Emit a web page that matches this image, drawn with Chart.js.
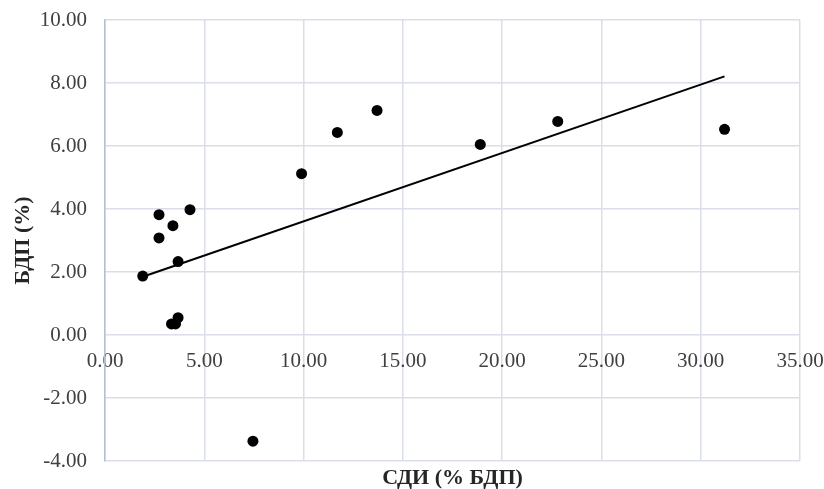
<!DOCTYPE html>
<html>
<head>
<meta charset="utf-8">
<script src="https://cdn.jsdelivr.net/npm/chart.js@4"></script>
<style>
  html, body { margin: 0; padding: 0; background: #fff; }
  #wrap { width: 824px; height: 489px; position: relative; }
</style>
</head>
<body>
<div id="wrap"><canvas id="chart"></canvas></div>
<script>
// СДИ (% БДП) on x, БДП (%) on y
const sdi = [1.9, 2.72, 2.72, 3.42, 4.28, 3.68, 3.35, 3.55, 3.68, 7.45, 9.9, 11.7, 13.7, 18.9, 22.8, 31.2];
const bdp = [1.87, 3.82, 3.08, 3.47, 3.98, 2.33, 0.35, 0.35, 0.55, -3.37, 5.12, 6.43, 7.13, 6.05, 6.78, 6.53];
const xTicks = [0, 5, 10, 15, 20, 25, 30, 35];
const yTicks = [-4, -2, 0, 2, 4, 6, 8, 10];
const xTitle = 'СДИ (% БДП)';
const yTitle = 'БДП (%)';

const FONT = "'Liberation Serif', 'Times New Roman', serif";
const TEXT = '#404040';
const GRID = '#d9dee8';

// linear trendline (least squares), like the Excel one
const n = sdi.length;
const mx = sdi.reduce((a, b) => a + b, 0) / n;
const my = bdp.reduce((a, b) => a + b, 0) / n;
let sxy = 0;
let sxx = 0;
sdi.forEach((x, i) => {
  sxy += (x - mx) * (bdp[i] - my);
  sxx += (x - mx) * (x - mx);
});
const slope = sxy / sxx;
const icpt = my - slope * mx;
const xMin = Math.min(...sdi);
const xMax = Math.max(...sdi);
const trend = [xMin, xMax].map((x) => ({ x, y: icpt + slope * x }));

const points = sdi.map((x, i) => ({ x, y: bdp[i] }));

const axisTitles = {
  id: 'axisTitles',
  afterDraw(chart) {
    const { ctx, chartArea } = chart;
    ctx.save();
    ctx.fillStyle = '#262626';
    ctx.font = `bold 22px ${FONT}`;
    ctx.textAlign = 'center';
    ctx.textBaseline = 'middle';
    ctx.fillText(xTitle, (chartArea.left + chartArea.right) / 2, chartArea.bottom + 17);
    ctx.translate(23, (chartArea.top + chartArea.bottom) / 2);
    ctx.rotate(-Math.PI / 2);
    ctx.fillText(yTitle, 0, 0);
    ctx.restore();
  },
};

new Chart(document.getElementById('chart'), {
  type: 'scatter',
  data: {
    datasets: [
      {
        label: 'trend',
        data: trend,
        showLine: true,
        borderColor: '#000',
        borderWidth: 2,
        pointRadius: 0,
        fill: false,
      },
      {
        label: 'data',
        data: points,
        backgroundColor: '#000',
        borderColor: '#000',
        borderWidth: 0,
        pointRadius: 5.5,
      },
    ],
  },
  options: {
    responsive: true,
    maintainAspectRatio: false,
    animation: false,
    layout: { padding: { top: 20, right: 24, bottom: 28, left: 0 } },
    plugins: {
      legend: { display: false },
      tooltip: { enabled: false },
    },
    scales: {
      x: {
        type: 'linear',
        position: { y: 0 },
        min: xTicks[0],
        max: xTicks[xTicks.length - 1],
        afterBuildTicks: (scale) => {
          scale.ticks = xTicks.map((v) => ({ value: v }));
        },
        afterFit: (scale) => {
          scale.height = 0;
          scale.paddingLeft = 0;
          scale.paddingRight = 0;
        },
        ticks: {
          callback: (v) => Number(v).toFixed(2),
          color: TEXT,
          font: { family: FONT, size: 21 },
          padding: 14,
          maxRotation: 0,
          autoSkip: false,
        },
        grid: { color: GRID, lineWidth: 1.5, drawTicks: false, tickLength: 0 },
        border: { display: false },
      },
      y: {
        type: 'linear',
        min: yTicks[0],
        max: yTicks[yTicks.length - 1],
        afterBuildTicks: (scale) => {
          scale.ticks = yTicks.map((v) => ({ value: v }));
        },
        afterFit: (scale) => {
          scale.width = 105;
          scale.paddingTop = 0;
          scale.paddingBottom = 0;
        },
        ticks: {
          callback: (v) => Number(v).toFixed(2),
          color: TEXT,
          font: { family: FONT, size: 21 },
          padding: 18,
        },
        grid: { color: GRID, lineWidth: 1.5, drawTicks: false, tickLength: 0 },
        border: { color: '#b4bfd3', width: 1.5 },
      },
    },
  },
  plugins: [axisTitles],
});
</script>
</body>
</html>
